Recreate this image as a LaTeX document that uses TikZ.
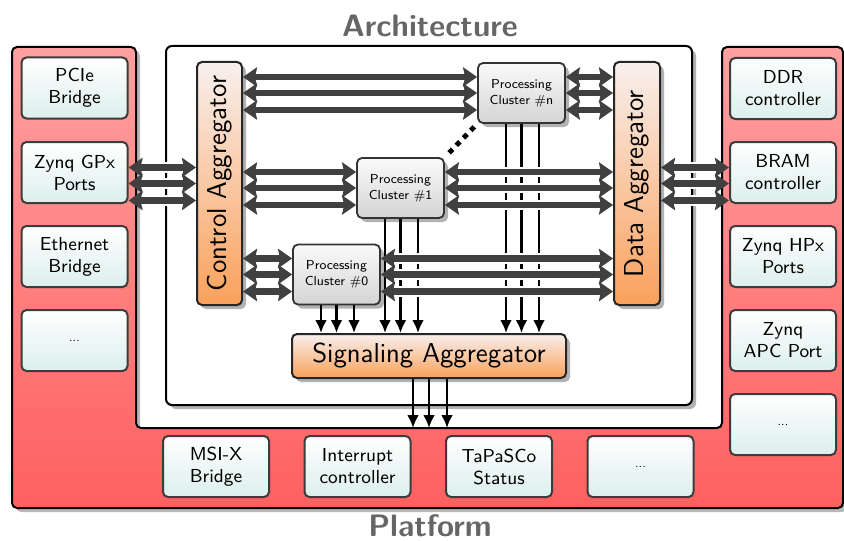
\documentclass[tikz,border=0pt]{standalone}
\usetikzlibrary{arrows.meta,shadows,calc}
\definecolor{busgray}{RGB}{64,64,64}
\definecolor{bordergray}{RGB}{60,60,60}
\definecolor{pltop}{RGB}{255,160,160}
\definecolor{plbot}{RGB}{255,96,96}
\definecolor{tealbot}{RGB}{220,239,236}
\definecolor{orTop}{RGB}{248,240,238}
\definecolor{orBot}{RGB}{250,160,90}
\definecolor{clTop}{RGB}{250,250,250}
\definecolor{clBot}{RGB}{212,212,212}
\definecolor{titlegray}{RGB}{102,102,102}
\begin{document}
\begin{tikzpicture}[x=0.5pt,y=-0.5pt,
  myshadow/.style={drop shadow={shadow xshift=2pt,shadow yshift=-2pt,opacity=0.3,fill=black}},
  periph/.style={draw=bordergray,line width=1pt,rounded corners=2.5pt,top color=white,bottom color=tealbot,
    minimum width=53pt,minimum height=30.5pt,align=center,inner sep=1pt,
    font=\sffamily\fontsize{9.4}{11}\selectfont},
  aggr/.style={draw=black!85,line width=1pt,rounded corners=2.5pt,top color=orTop,bottom color=orBot,
    myshadow,inner sep=1pt},
  aggrfont/.style={font=\sffamily\fontsize{13.7}{16}\selectfont},
  cluster/.style={draw=black!80,line width=0.9pt,rounded corners=2.5pt,top color=clTop,bottom color=clBot,
    minimum width=43.5pt,minimum height=30pt,align=center,inner sep=1pt,myshadow,
    font=\sffamily\fontsize{6.5}{8}\selectfont},
  bus/.style={draw=busgray,line width=3.4pt,
    {Stealth[length=7pt,width=9.6pt,inset=1pt]}-{Stealth[length=7pt,width=9.6pt,inset=1pt]},
    preaction={draw=white,line width=5.2pt,arrows=-,shorten <=7.5pt,shorten >=7.5pt}},
  sigline/.style={draw=black,line width=1.3pt,-{Latex[length=6.5pt,width=6pt]}},
  dotline/.style={draw=black,line width=2.5pt,dash pattern=on 2.5pt off 2.7pt},
  title/.style={font=\sffamily\bfseries\fontsize{15.5}{18}\selectfont,text=titlegray}
]
\useasboundingbox (0,0) rectangle (844,540);

% platform shape (U) with shadow
\fill[black!28,rounded corners=2.5pt,shift={(4,4)}]
  (12,47) -- (136,47) -- (136,428) -- (722,428) -- (722,47) -- (843,47) -- (843,508) -- (12,508) -- cycle;
\path[draw=black,line width=1pt,rounded corners=2.5pt,top color=pltop,bottom color=plbot]
  (12,47) -- (136,47) -- (136,428) -- (722,428) -- (722,47) -- (843,47) -- (843,508) -- (12,508) -- cycle;

% titles
\node[title] (archtitle) at (430,25.5) {Architecture};
\node[title] (plattitle) at (430,525.5) {Platform};

% peripheral boxes, left
\node[periph] (pcie) at (74.5,88) {PCIe\\Bridge};
\node[periph] (gpx)  at (74.5,172.5) {Zynq GPx\\Ports};
\node[periph] (eth)  at (74.5,256.5) {Ethernet\\Bridge};
\node[periph] (ldots) at (74.5,340.5) {\fontsize{6}{7}\selectfont ...};
% right
\node[periph] (ddr)  at (783,88.5) {DDR\\controller};
\node[periph] (bram) at (783,172.5) {BRAM\\controller};
\node[periph] (hpx)  at (783,256.5) {Zynq HPx\\Ports};
\node[periph] (apc)  at (783,340.5) {Zynq\\APC Port};
\node[periph] (rdots) at (783,424.5) {\fontsize{6}{7}\selectfont ...};
% bottom
\node[periph] (msix) at (216,466.5) {MSI-X\\Bridge};
\node[periph] (intc) at (357.5,466.5) {Interrupt\\controller};
\node[periph] (stat) at (499,466.5) {TaPaSCo\\Status};
\node[periph] (bdots) at (640.5,466.5) {\fontsize{6}{7}\selectfont ...};

% architecture box
\node[draw=black,line width=1pt,rounded corners=3pt,fill=white,myshadow,
  minimum width=263pt,minimum height=179.5pt] (arch) at (429,225.5) {};

% aggregators
\node[aggr,minimum width=22.5pt,minimum height=121.5pt] (ctrl) at (219.5,183.5) {};
\node[rotate=90,aggrfont] (ctrltext) at (ctrl.center) {Control Aggregator};
\node[aggr,minimum width=23pt,minimum height=121.5pt] (data) at (637,183.5) {};
\node[rotate=90,aggrfont] (datatext) at (data.center) {Data Aggregator};
\node[aggr,aggrfont,minimum width=137pt,minimum height=22pt] (signal) at (429,356) {Signaling Aggregator};

% clusters
\node[cluster] (cn) at (521.5,93) {Processing\\Cluster \#n};
\node[cluster] (c1) at (400.5,188) {Processing\\Cluster \#1};
\node[cluster] (c0) at (336.5,274.5) {Processing\\Cluster \#0};

% signal lines clusters -> signaling aggregator
\foreach \c in {cn,c1,c0}{
  \foreach \d in {-15.5,0,17.5}{
    \path (\c.south) ++(\d,0) coordinate (s);
    \draw[sigline] (s) -- (s |- signal.north);
  }
}
% signaling -> platform
\coordinate (platin) at (429,428);
\foreach \d in {-16,0,18}{
  \path (signal.south) ++(\d,0) coordinate (s);
  \draw[sigline] (s) -- (s |- platin);
}

% buses
\foreach \d in {-16,0,17}{
  \path (ctrl.center) ++(0,\d) coordinate (p);
  \draw[bus] (p -| gpx.east) -- (p -| ctrl.west);
  \draw[bus] (p -| data.east) -- (p -| bram.west);
}
\foreach \c in {cn,c1,c0}{
  \foreach \d in {-16,0,17}{
    \path (\c.center) ++(0,\d) coordinate (p);
    \draw[bus] (p -| ctrl.east) -- (p -| \c.west);
    \draw[bus] (p -| \c.east) -- (p -| data.west);
  }
}

% dots between clusters
\draw[dotline,shorten <=3pt,shorten >=2pt] (c1.north east) -- (cn.south west);
\end{tikzpicture}
\end{document}
